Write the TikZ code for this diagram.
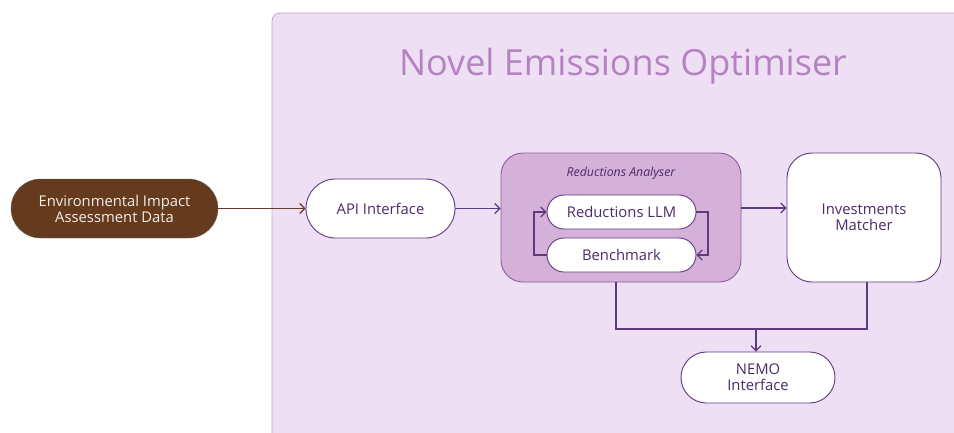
\documentclass[tikz,border=0pt]{standalone}
\usepackage{fontspec}
\setmainfont{Open Sans}
\usetikzlibrary{arrows.meta,shapes.misc}
\definecolor{bgl}{HTML}{EEDFF5}
\definecolor{bgb}{HTML}{C3A6CF}
\definecolor{ttl}{HTML}{B583C0}
\definecolor{brn}{HTML}{653A1D}
\definecolor{pln}{HTML}{5E3A80}
\definecolor{ptx}{HTML}{4B2A6A}
\definecolor{raf}{HTML}{D5B0D8}
\definecolor{rab}{HTML}{8B5E9C}
\tikzset{
  pill/.style={rounded rectangle, draw=pln, line width=0.9pt, fill=white, text=ptx, align=center, font=\fontsize{14.8}{17}\selectfont, inner sep=0pt},
  conn/.style={draw=pln, line width=1.2pt, -{Straight Barb[length=5pt,width=10pt]}},
  plain/.style={draw=pln, line width=1.2pt}
}
\begin{document}
\begin{tikzpicture}[x=1pt,y=-1pt]
\useasboundingbox (0,0) rectangle (954,432);
\fill[white] (0,0) rectangle (954,432);
% frame
\draw[fill=bgl, draw=bgb, line width=0.8pt, rounded corners=8pt] (272,445) -- (272,13) -- (970,13) -- (970,445);
\node[text=ttl, font=\fontsize{36}{40}\selectfont] (title) at (623,66) {Novel Emissions Optimiser};
% EIA
\node[rounded rectangle, draw=black!60, fill=brn, text=white!92!brn, align=center, font=\fontsize{14.8}{17}\selectfont, minimum width=207pt, minimum height=59pt, inner sep=0pt] (eia) at (114.5,208.5) {Environmental Impact\\[-1pt]Assessment Data};
% API
\node[pill, minimum width=149pt, minimum height=59pt] (api) at (380.5,208.5) {API Interface};
% Reductions Analyser
\node[draw=rab, fill=raf, line width=0.9pt, rounded corners=22pt, minimum width=240pt, minimum height=129pt, inner sep=0pt] (ra) at (621,217.5) {};
\node[text=ptx, font=\fontsize{12.3}{14}\selectfont\itshape] (ralab) at (621,173) {Reductions Analyser};
\node[pill, minimum width=149pt, minimum height=34pt] (llm) at (621.5,212) {Reductions LLM};
\node[pill, minimum width=149pt, minimum height=34pt] (bm) at (621.5,255) {Benchmark};
% Investments Matcher
\node[draw=pln, fill=white, line width=0.9pt, rounded corners=25pt, minimum width=154pt, minimum height=129pt, inner sep=0pt, text=ptx, align=center, font=\fontsize{14.8}{17}\selectfont] (im) at (864,217.5) {Investments\\[-1pt]Matcher};
% NEMO
\node[pill, minimum width=154pt, minimum height=51pt] (nemo) at (758,377.5) {NEMO\\[-1pt]Interface};
% connectors
\draw[conn, draw=brn!80!pln] (eia.east) -- (api.west);
\draw[conn] (api.east) -- (ra.west |- api.east);
\draw[conn] (ra.east |- 0,208) -- (im.west |- 0,208);
\draw[conn] (bm.west) -- (534,255) |- (llm.west);
\draw[conn] (llm.east) -- (708,212) |- (bm.east);
\coordinate (j) at (756,329);
\draw[plain] (ra.south -| 616,0) |- (j) -| (im.south -| 867,0);
\draw[conn] (j) -- (nemo.north -| j);
\end{tikzpicture}
\end{document}
